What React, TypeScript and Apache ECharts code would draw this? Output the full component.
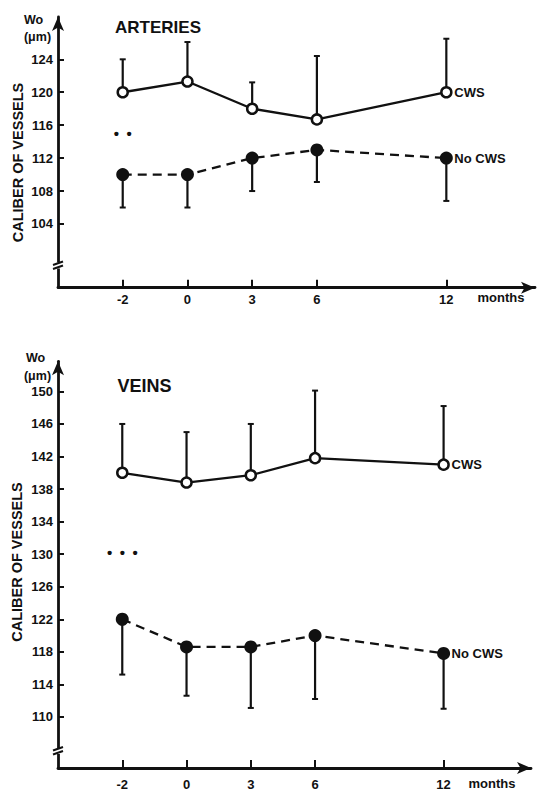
import React, { useEffect, useRef } from "react";
import * as echarts from "echarts";

// x axis: evenly spaced slots, 12 months placed after a one-slot gap
const monthLabels = ["-2", "0", "3", "6", "12"];
const monthSlots = [0, 1, 2, 3, 5];

// ARTERIES (Wo, µm)
const arteriesCws = [120, 121.3, 118, 116.7, 120];
const arteriesCwsUpper = [124, 126.1, 121.2, 124.4, 126.5];
const arteriesNoCws = [110, 110, 112, 113, 112];
const arteriesNoCwsLower = [106, 106, 108, 109.1, 106.8];
const arteriesTicks = [104, 108, 112, 116, 120, 124];

// VEINS (Wo, µm)
const veinsCws = [140, 138.8, 139.7, 141.8, 141];
const veinsCwsUpper = [146, 145, 146, 150.1, 148.2];
const veinsNoCws = [122, 118.6, 118.6, 120, 117.8];
const veinsNoCwsLower = [115.2, 112.6, 111.1, 112.2, 111];
const veinsTicks = [110, 114, 118, 122, 126, 130, 134, 138, 142, 146, 150];

const FONT = "'Liberation Sans', Arial, Helvetica, sans-serif";
const INK = "#111";

function xAxisDef(gridIndex: number, max: number, margin: number) {
  return {
    type: "value",
    gridIndex,
    min: -1,
    max,
    axisLine: {
      show: true,
      onZero: false,
      symbol: ["none", "arrow"],
      symbolSize: [9, 14],
      lineStyle: { color: INK, width: 2.8 },
    },
    axisTick: { show: true, inside: true, length: 8, customValues: monthSlots, lineStyle: { color: INK, width: 2 } },
    axisLabel: {
      customValues: monthSlots,
      formatter: (v: number) => monthLabels[monthSlots.indexOf(v)] ?? "",
      margin,
      fontSize: 13,
      fontWeight: "bold",
      color: INK,
      fontFamily: FONT,
    },
    splitLine: { show: false },
  };
}

function yAxisDef(gridIndex: number, min: number, max: number, ticks: number[]) {
  return {
    type: "value",
    gridIndex,
    min,
    max,
    axisLine: {
      show: true,
      onZero: false,
      symbol: ["none", "arrow"],
      symbolSize: [9, 14],
      lineStyle: { color: INK, width: 2.8 },
    },
    axisTick: { show: true, inside: true, length: 6, customValues: ticks, lineStyle: { color: INK, width: 2 } },
    axisLabel: {
      customValues: ticks,
      margin: 5,
      fontSize: 13,
      fontWeight: "bold",
      color: INK,
      fontFamily: FONT,
    },
    splitLine: { show: false },
  };
}

function lineSeries(idx: number, values: number[], open: boolean, label: string) {
  return {
    type: "line",
    xAxisIndex: idx,
    yAxisIndex: idx,
    data: monthSlots.map((s, i) => [s, values[i]]),
    symbol: "circle",
    symbolSize: open ? 10 : 13,
    itemStyle: open
      ? { color: "#fff", borderColor: INK, borderWidth: 2.5 }
      : { color: INK, borderColor: INK, borderWidth: 0 },
    lineStyle: { color: INK, width: 2.3, type: open ? "solid" : [9, 6] },
    endLabel: {
      show: true,
      formatter: label,
      distance: 8,
      fontSize: 13,
      fontWeight: "bold",
      color: INK,
      fontFamily: FONT,
    },
    z: 3,
  };
}

function errorSeries(idx: number, values: number[], ends: number[]) {
  return {
    type: "custom",
    xAxisIndex: idx,
    yAxisIndex: idx,
    data: monthSlots.map((s, i) => [s, values[i], ends[i]]),
    z: 1,
    renderItem: (_p: any, api: any) => {
      const x = api.value(0);
      const p0 = api.coord([x, api.value(1)]);
      const p1 = api.coord([x, api.value(2)]);
      return {
        type: "group",
        children: [
          { type: "line", shape: { x1: p0[0], y1: p0[1], x2: p1[0], y2: p1[1] }, style: { stroke: INK, lineWidth: 2.2 } },
          { type: "line", shape: { x1: p1[0] - 3, y1: p1[1], x2: p1[0] + 3, y2: p1[1] }, style: { stroke: INK, lineWidth: 2 } },
        ],
      };
    },
  };
}

function txt(text: string, x: number, y: number, size: number, extra: any = {}) {
  return {
    type: "text",
    x,
    y,
    ...extra,
    style: {
      text,
      fontSize: size,
      fontWeight: "bold",
      fontFamily: FONT,
      fill: INK,
      align: "center",
      verticalAlign: "middle",
    },
  };
}

export default function App() {
  const ref = useRef<HTMLDivElement>(null);
  useEffect(() => {
    if (!ref.current) return;
    const chart = echarts.init(ref.current, null, { renderer: "svg" });
    chart.setOption({
      animation: false,
      backgroundColor: "#fff",
      grid: [
        { left: 58, right: 4, top: 17, bottom: 503.3 },
        { left: 58, right: 8, top: 361.3, bottom: 19.3 },
      ],
      xAxis: [xAxisDef(0, 6.37, 5), xAxisDef(1, 6.36, 10)],
      yAxis: [yAxisDef(0, 96.26, 129.14, arteriesTicks), yAxisDef(1, 103.72, 153.7, veinsTicks)],
      series: [
        errorSeries(0, arteriesCws, arteriesCwsUpper),
        errorSeries(0, arteriesNoCws, arteriesNoCwsLower),
        lineSeries(0, arteriesCws, true, "CWS"),
        lineSeries(0, arteriesNoCws, false, "No CWS"),
        errorSeries(1, veinsCws, veinsCwsUpper),
        errorSeries(1, veinsNoCws, veinsNoCwsLower),
        lineSeries(1, veinsCws, true, "CWS"),
        lineSeries(1, veinsNoCws, false, "No CWS"),
      ],
    });

    const px = (i: number, v: number[]) => chart.convertToPixel({ xAxisIndex: i, yAxisIndex: i }, v) as number[];
    const brk = (p: number[]) => [
      { type: "rect", shape: { x: p[0] - 4, y: p[1] - 3.5, width: 8, height: 6 }, style: { fill: "#fff" }, z: 10 },
      { type: "line", shape: { x1: p[0] - 5, y1: p[1] - 1, x2: p[0] + 5, y2: p[1] - 4.5 }, style: { stroke: INK, lineWidth: 2 }, z: 11 },
      { type: "line", shape: { x1: p[0] - 5, y1: p[1] + 3, x2: p[0] + 5, y2: p[1] - 0.5 }, style: { stroke: INK, lineWidth: 2 }, z: 11 },
    ];
    const b1 = px(0, [-1, 98.9]);
    const b2 = px(1, [-1, 105.75]);
    const s1 = px(0, [monthSlots[0], 115]);
    const s2 = px(1, [monthSlots[0], 130.2]);

    chart.setOption({
      graphic: [
        ...brk(b1),
        ...brk(b2),
        txt("\u2022\u2002\u2022", s1[0], s1[1], 15),
        txt("\u2022\u2002\u2022\u2002\u2022", s2[0], s2[1], 15),
        txt("ARTERIES", 158, 27.5, 17),
        txt("VEINS", 144.5, 386, 18),
        txt("Wo", 33.5, 19.5, 12.5),
        txt("(\u03bcm)", 37.5, 36.5, 12.5),
        txt("Wo", 35.5, 357.5, 12.5),
        txt("(\u03bcm)", 37.5, 375.5, 12.5),
        txt("months", 501, 297, 13),
        txt("months", 492, 783, 13),
        txt("CALIBER OF VESSELS", 17.5, 162.5, 14.5, { rotation: Math.PI / 2 }),
        txt("CALIBER OF VESSELS", 17, 562, 14.5, { rotation: Math.PI / 2 }),
      ],
    });
    return () => chart.dispose();
  }, []);
  return (
    <div
      ref={ref}
      style={{ position: "absolute", left: 0, top: 0, width: 539, height: 791, background: "#fff" }}
    />
  );
}
